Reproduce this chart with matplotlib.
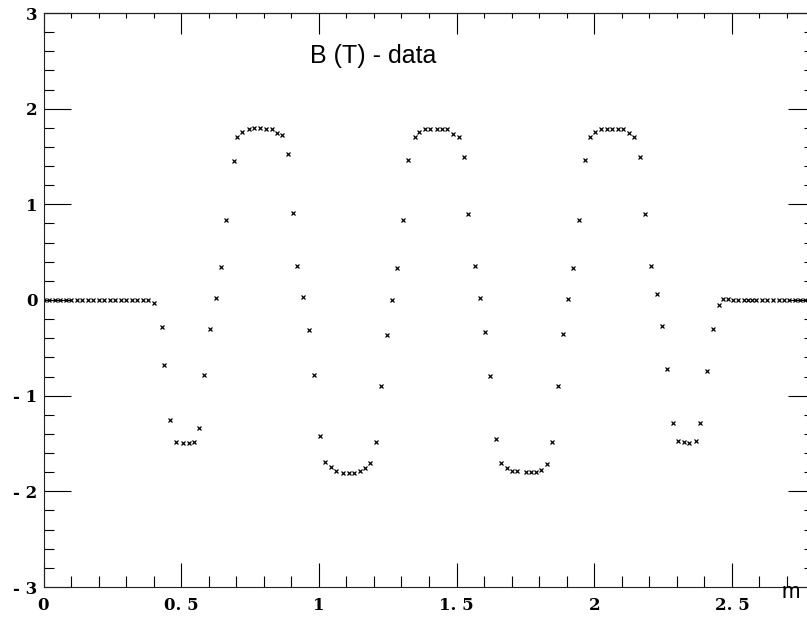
import matplotlib
matplotlib.use("Agg")
import matplotlib.pyplot as plt
from matplotlib.ticker import MultipleLocator

# Field map samples: position along the device (m) and B (T)
x_left = [0.00, 0.02, 0.04, 0.06, 0.08, 0.10, 0.12, 0.14, 0.16, 0.18,
          0.20, 0.22, 0.24, 0.26, 0.28, 0.30, 0.32, 0.34, 0.36, 0.38]
b_left = [0.00, 0.00, 0.00, 0.00, 0.00, 0.00, 0.00, 0.00, 0.00, 0.00,
          0.00, 0.00, 0.00, 0.00, 0.00, 0.00, 0.00, 0.00, 0.00, 0.00]

x_wave = [0.400, 0.431, 0.439, 0.458, 0.483, 0.507, 0.527, 0.546, 0.566, 0.582,
          0.603, 0.625, 0.643, 0.662, 0.691, 0.702, 0.722, 0.746, 0.763, 0.785,
          0.808, 0.829, 0.847, 0.866, 0.887, 0.906, 0.922, 0.944, 0.965, 0.984,
          1.003, 1.024, 1.043, 1.061, 1.089, 1.108, 1.129, 1.148, 1.169, 1.187,
          1.207, 1.227, 1.247, 1.265, 1.285, 1.305, 1.323, 1.349, 1.363, 1.384,
          1.405, 1.430, 1.448, 1.466, 1.487, 1.509, 1.526, 1.542, 1.567, 1.585,
          1.604, 1.623, 1.644, 1.663, 1.682, 1.702, 1.721, 1.752, 1.770, 1.787,
          1.805, 1.829, 1.848, 1.867, 1.888, 1.906, 1.924, 1.946, 1.966, 1.984,
          2.003, 2.024, 2.046, 2.064, 2.088, 2.106, 2.125, 2.146, 2.168, 2.186,
          2.205, 2.227, 2.246, 2.265, 2.285, 2.304, 2.325, 2.343, 2.371, 2.384,
          2.411, 2.431, 2.452]
b_wave = [-0.03, -0.28, -0.68, -1.25, -1.48, -1.49, -1.49, -1.48, -1.34, -0.78,
          -0.30, 0.02, 0.34, 0.84, 1.45, 1.70, 1.76, 1.79, 1.80, 1.80,
          1.79, 1.79, 1.75, 1.72, 1.53, 0.91, 0.36, 0.03, -0.31, -0.78,
          -1.42, -1.69, -1.75, -1.79, -1.81, -1.81, -1.81, -1.79, -1.76, -1.70,
          -1.48, -0.90, -0.37, 0.00, 0.33, 0.84, 1.46, 1.70, 1.76, 1.79,
          1.79, 1.79, 1.79, 1.79, 1.74, 1.70, 1.50, 0.90, 0.36, 0.02,
          -0.33, -0.79, -1.45, -1.70, -1.76, -1.79, -1.79, -1.80, -1.80, -1.80,
          -1.78, -1.71, -1.48, -0.90, -0.36, 0.01, 0.33, 0.84, 1.46, 1.70,
          1.76, 1.79, 1.79, 1.79, 1.79, 1.79, 1.75, 1.70, 1.50, 0.90,
          0.36, 0.06, -0.27, -0.72, -1.29, -1.47, -1.48, -1.49, -1.47, -1.29,
          -0.74, -0.30, -0.05]

x_right = [2.468, 2.486, 2.505, 2.523, 2.543, 2.559, 2.574, 2.589, 2.610, 2.628,
           2.650, 2.672, 2.690, 2.708, 2.730, 2.748, 2.766]
b_right = [0.01, 0.01, 0.00, 0.00, 0.00, 0.00, 0.00, 0.00, 0.00, 0.00,
           0.00, 0.00, 0.00, 0.00, 0.00, 0.00, 0.00]

x_ticks = [0, 0.5, 1, 1.5, 2, 2.5]
x_tick_labels = ["0", "0. 5", "1", "1. 5", "2", "2. 5"]
y_ticks = [-3, -2, -1, 0, 1, 2, 3]
y_tick_labels = ["- 3", "- 2", "- 1", "0", "1", "2", "3"]

W, H = 807, 619
fig = plt.figure(figsize=(W / 100, H / 100), dpi=100)
ax = fig.add_axes([43.5 / W, (H - 587) / H, (809 - 43.5) / W, (587 - 13) / H])

xs = x_left + x_wave + x_right
bs = b_left + b_wave + b_right
ax.plot(xs, bs, linestyle="none", marker="x", markersize=2.2,
        markeredgewidth=0.9, color="black")

ax.set_xlim(0, 2.78)
ax.set_ylim(-3, 3)

for s in ax.spines.values():
    s.set_linewidth(0.8)
    s.set_color("#222222")

px = 72 / 100  # points per pixel
ax.set_xticks(x_ticks)
ax.set_xticklabels(x_tick_labels)
ax.set_yticks(y_ticks)
ax.set_yticklabels(y_tick_labels)
ax.xaxis.set_minor_locator(MultipleLocator(0.1))
ax.yaxis.set_minor_locator(MultipleLocator(0.2))
ax.tick_params(axis="x", which="major", direction="in", length=24 * px,
               width=0.8, pad=10 * px)
ax.tick_params(axis="x", which="minor", direction="in", length=11 * px, width=0.8)
ax.tick_params(axis="y", which="major", direction="in", length=27 * px,
               width=0.8, pad=6 * px)
ax.tick_params(axis="y", which="minor", direction="in", length=10 * px, width=0.8)

for t in ax.get_xticklabels() + ax.get_yticklabels():
    t.set_fontfamily("DejaVu Serif")
    t.set_fontweight("bold")
    t.set_fontsize(12)

# shorter ticks along the top and right edges
top = ax.secondary_xaxis("top")
top.set_xticks(x_ticks)
top.xaxis.set_minor_locator(MultipleLocator(0.1))
top.tick_params(which="major", direction="in", length=21 * px, width=0.8,
                labeltop=False)
top.tick_params(which="minor", direction="in", length=5 * px, width=0.8)
right = ax.secondary_yaxis("right")
right.set_yticks(y_ticks)
right.yaxis.set_minor_locator(MultipleLocator(0.2))
right.tick_params(which="major", direction="in", length=21 * px, width=0.8,
                  labelright=False)
right.tick_params(which="minor", direction="in", length=5 * px, width=0.8)

fig.text(310 / W, 1 - 63 / H, "B (T) - data", family="Liberation Sans",
         fontsize=18, ha="left", va="baseline")
fig.text(791 / W, 1 - 598 / H, "m", family="Liberation Sans",
         fontsize=16, ha="center", va="baseline")

fig.savefig("out.png", dpi=100)
